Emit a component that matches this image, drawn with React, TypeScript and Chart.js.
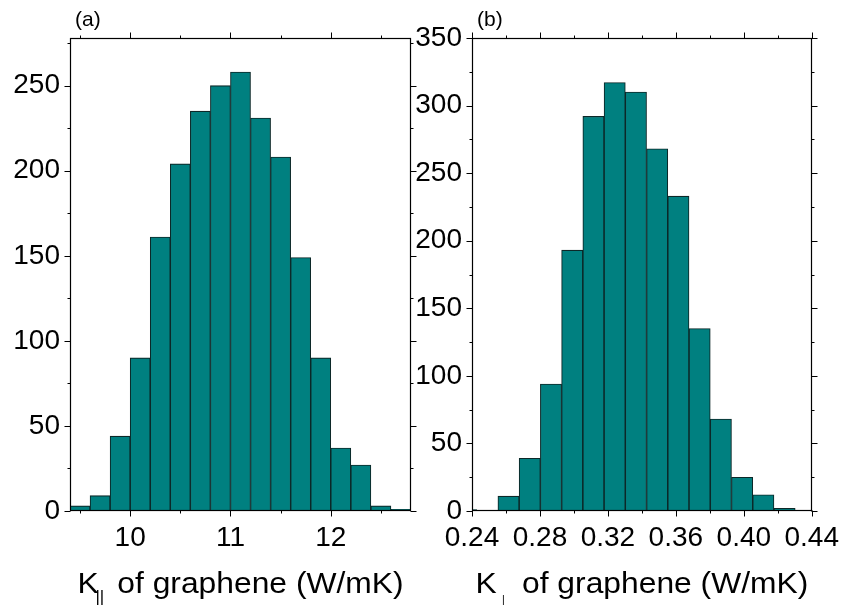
import React, { useEffect, useRef } from "react";
import { Chart, registerables } from "chart.js";

Chart.register(...registerables);

const FONT = '"Liberation Sans", Arial, Helvetica, sans-serif';

// (a) in-plane conductivity: bin centres (bin width 0.2) and counts
const kParBinCenters = [9.5, 9.7, 9.9, 10.1, 10.3, 10.5, 10.7, 10.9, 11.1, 11.3, 11.5, 11.7, 11.9, 12.1, 12.3, 12.5, 12.7];
const kParCounts = [3, 9, 44, 90, 161, 204, 235, 250, 258, 231, 208, 149, 90, 37, 27, 3, 1];
const kParXTicks = [10, 11, 12];
const kParYTicks = [0, 50, 100, 150, 200, 250];

// (b) cross-plane conductivity: bin centres (bin width 0.0125) and counts
const kPerpBinCenters = [0.2365, 0.249, 0.2615, 0.274, 0.2865, 0.299, 0.3115, 0.324, 0.3365, 0.349, 0.3615, 0.374, 0.3865, 0.399, 0.4115, 0.424];
const kPerpCounts = [1, 0, 11, 39, 94, 193, 292, 317, 310, 268, 233, 135, 68, 25, 12, 2];
const kPerpXTicks = [0.24, 0.28, 0.32, 0.36, 0.4, 0.44];
const kPerpYTicks = [0, 50, 100, 150, 200, 250, 300, 350];

type Panel = {
  tag: string;
  centers: number[];
  counts: number[];
  xTicks: number[];
  yTicks: number[];
  xMin: number;
  xMax: number;
  yMax: number;
  xDecimals: number;
  sub: string;
  subSize: number;
  subDrop: number;
  subGapBefore: number;
  subGapAfter: number;
  plotLeft: number;
  plotRight: number;
};

const W = 843;
const H = 609;
const PLOT_TOP = 38;
const PLOT_BOTTOM = 511;

const panels: Panel[] = [
  {
    tag: "(a)",
    centers: kParBinCenters,
    counts: kParCounts,
    xTicks: kParXTicks,
    yTicks: kParYTicks,
    xMin: 9.4,
    xMax: 12.8,
    yMax: 278,
    xDecimals: 0,
    sub: "||",
    subSize: 16,
    subDrop: 9,
    subGapBefore: -3,
    subGapAfter: 4,
    plotLeft: 70,
    plotRight: 411,
  },
  {
    tag: "(b)",
    centers: kPerpBinCenters,
    counts: kPerpCounts,
    xTicks: kPerpXTicks,
    yTicks: kPerpYTicks,
    xMin: 0.24,
    xMax: 0.44,
    yMax: 350,
    xDecimals: 2,
    sub: "|",
    subSize: 10,
    subDrop: 10,
    subGapBefore: 5,
    subGapAfter: 8,
    plotLeft: 472,
    plotRight: 813,
  },
];

// midpoints between major ticks (plus one half-step beyond each end), kept inside the range
function minorValues(major: number[], lo: number, hi: number): number[] {
  const step = major[1] - major[0];
  const out: number[] = [];
  const first = major[0] - step / 2;
  for (let i = 0; i <= major.length; i++) {
    const v = first + i * step;
    if (v >= lo - 1e-9 && v <= hi + 1e-9) out.push(v);
  }
  return out;
}

function framePlugin(p: Panel) {
  return {
    id: "panelFrame",
    afterDraw(chart: any) {
      const { ctx, chartArea: a } = chart;
      const xs = chart.scales.x;
      const ys = chart.scales.y;
      const L = Math.round(a.left) + 0.5;
      const R = Math.round(a.right) - 0.5;
      const T = Math.round(a.top) + 0.5;
      const B = Math.round(a.bottom) - 0.5;
      ctx.save();
      ctx.strokeStyle = "#000";
      ctx.lineWidth = 1.2;
      ctx.strokeRect(L, T, R - L, B - T);

      const major = 6;
      const minor = 3;
      const xMinor = minorValues(p.xTicks, p.xMin, p.xMax);
      const yMinor = minorValues(p.yTicks, 0, p.yMax);
      ctx.lineWidth = 1;
      ctx.beginPath();
      const vTick = (v: number, len: number) => {
        const px = Math.round(xs.getPixelForValue(v)) + 0.5;
        ctx.moveTo(px, B);
        ctx.lineTo(px, B + len);
        ctx.moveTo(px, T);
        ctx.lineTo(px, T - len);
      };
      const hTick = (v: number, len: number) => {
        const py = Math.round(ys.getPixelForValue(v)) + 0.5;
        ctx.moveTo(L, py);
        ctx.lineTo(L - len, py);
        ctx.moveTo(R, py);
        ctx.lineTo(R + len, py);
      };
      p.xTicks.forEach((v) => vTick(v, major));
      xMinor.forEach((v) => vTick(v, minor));
      p.yTicks.forEach((v) => hTick(v, major));
      yMinor.forEach((v) => hTick(v, minor));
      ctx.stroke();

      // panel tag
      ctx.fillStyle = "#000";
      ctx.font = `21px ${FONT}`;
      ctx.textAlign = "left";
      ctx.textBaseline = "alphabetic";
      ctx.fillText(p.tag, a.left + 5, 26);

      // axis title with subscript
      const mainFont = `30px ${FONT}`;
      const subFont = `${p.subSize}px ${FONT}`;
      const rest = " of graphene (W/mK)";
      ctx.font = mainFont;
      const wK = ctx.measureText("K").width;
      const wRest = ctx.measureText(rest).width;
      ctx.font = subFont;
      const wSub = ctx.measureText(p.sub).width;
      const total = wK + p.subGapBefore + wSub + p.subGapAfter + wRest;
      const sx = 1.06;
      const cx = (a.left + a.right) / 2;
      const base = 593;
      ctx.translate(cx, 0);
      ctx.scale(sx, 1);
      let x = -total / 2;
      ctx.font = mainFont;
      ctx.fillText("K", x, base);
      x += wK + p.subGapBefore;
      ctx.font = subFont;
      ctx.fillText(p.sub, x, base + p.subDrop);
      x += wSub + p.subGapAfter;
      ctx.font = mainFont;
      ctx.fillText(rest, x, base);
      ctx.restore();
    },
  };
}

function HistogramPanel({ p }: { p: Panel }) {
  const ref = useRef<HTMLCanvasElement | null>(null);
  useEffect(() => {
    if (!ref.current) return;
    const chart = new Chart(ref.current, {
      type: "bar",
      data: {
        datasets: [
          {
            data: p.centers.map((c, i) => ({ x: c, y: p.counts[i] })),
            backgroundColor: "#008080",
            borderColor: "#0c2828",
            borderWidth: 1.1,
            borderSkipped: "start",
            barPercentage: 1,
            categoryPercentage: 1,
            clip: 0,
          } as any,
        ],
      },
      options: {
        responsive: false,
        animation: false,
        events: [],
        layout: {
          padding: { left: 0, right: W - p.plotRight, top: PLOT_TOP, bottom: 0 },
        },
        plugins: { legend: { display: false }, tooltip: { enabled: false }, title: { display: false } },
        scales: {
          x: {
            type: "linear",
            min: p.xMin,
            max: p.xMax,
            offset: false,
            afterBuildTicks: (s: any) => {
              s.ticks = p.xTicks.map((v) => ({ value: v }));
            },
            afterFit: (s: any) => {
              s.height = H - PLOT_BOTTOM;
            },
            grid: { display: true, offset: false, drawOnChartArea: false, color: "rgba(0,0,0,0)", tickLength: 6 },
            border: { display: false },
            ticks: {
              autoSkip: false,
              maxRotation: 0,
              padding: 4,
              color: "#000",
              font: { family: FONT, size: 28 },
              callback: (v: any) => Number(v).toFixed(p.xDecimals),
            },
          },
          y: {
            type: "linear",
            min: 0,
            max: p.yMax,
            afterBuildTicks: (s: any) => {
              s.ticks = p.yTicks.map((v) => ({ value: v }));
            },
            afterFit: (s: any) => {
              s.width = p.plotLeft;
            },
            grid: { display: true, drawOnChartArea: false, color: "rgba(0,0,0,0)", tickLength: 6 },
            border: { display: false },
            ticks: {
              autoSkip: false,
              padding: 4,
              color: "#000",
              font: { family: FONT, size: 28 },
              callback: (v: any) => String(v),
            },
          },
        },
      } as any,
      plugins: [framePlugin(p)],
    });
    return () => chart.destroy();
  }, [p]);
  return (
    <canvas
      ref={ref}
      width={W}
      height={H}
      style={{ position: "absolute", left: 0, top: 0, width: W, height: H, display: "block" }}
    />
  );
}

export default function App() {
  return (
    <div style={{ position: "fixed", left: 0, top: 0, width: W, height: H, background: "#fff", overflow: "hidden" }}>
      {panels.map((p) => (
        <HistogramPanel key={p.tag} p={p} />
      ))}
    </div>
  );
}
